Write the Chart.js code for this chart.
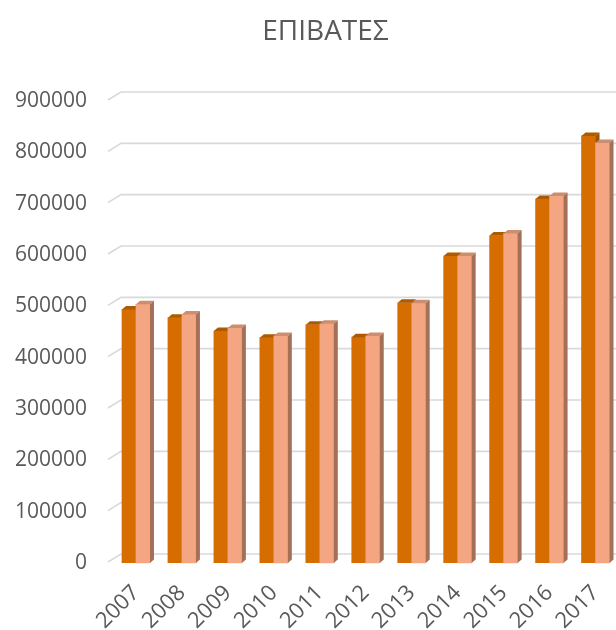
<!DOCTYPE html>
<html>
<head>
<meta charset="utf-8">
<script src="https://cdn.jsdelivr.net/npm/chart.js@4.4.1/dist/chart.umd.min.js"></script>
<style>
  html, body { margin: 0; padding: 0; overflow: hidden; background: #ffffff; }
  canvas { display: block; }
</style>
</head>
<body>
<canvas id="chart" width="651" height="630"></canvas>
<script>
// Passenger counts per year, two series
const years = ['2007', '2008', '2009', '2010', '2011', '2012', '2013', '2014', '2015', '2016', '2017'];
const seriesDark  = [494000, 478000, 452000, 439000, 464000, 440000, 507000, 598000, 638000, 709000, 832000];
const seriesLight = [504000, 484000, 458000, 442000, 466000, 442000, 506000, 598000, 642000, 715000, 818000];
const yTickValues = [0, 100000, 200000, 300000, 400000, 500000, 600000, 700000, 800000, 900000];

const TEXT = '#595959';
const DEPTH_X = 4;
const DEPTH_Y = 3.5;

const faceColors = [
  { top: '#AD5A00', side: '#9C5200' },
  { top: '#CC8E70', side: '#A57058' }
];

// Back-wall gridlines with a short slanted segment on the left wall
const wallGrid = {
  id: 'wallGrid',
  beforeDatasetsDraw(chart) {
    const { ctx, chartArea } = chart;
    const y = chart.scales.y;
    ctx.save();
    ctx.strokeStyle = '#D9D9D9';
    ctx.lineWidth = 1.6;
    yTickValues.forEach(v => {
      const py = y.getPixelForValue(v);
      ctx.beginPath();
      ctx.moveTo(chartArea.left - 5, py - 1);
      ctx.lineTo(chartArea.left + 8, py - 9);
      ctx.lineTo(chart.width, py - 9);
      ctx.stroke();
    });
    ctx.restore();
  }
};

function drawTopSide(ctx, el, colors) {
  const left = el.x - el.width / 2;
  const right = el.x + el.width / 2;
  const top = el.y;
  const base = el.base;
  // top face
  ctx.fillStyle = colors.top;
  ctx.beginPath();
  ctx.moveTo(left, top);
  ctx.lineTo(right, top);
  ctx.lineTo(right + DEPTH_X, top - DEPTH_Y);
  ctx.lineTo(left + DEPTH_X, top - DEPTH_Y);
  ctx.closePath();
  ctx.fill();
  // right side face
  ctx.fillStyle = colors.side;
  ctx.beginPath();
  ctx.moveTo(right, top);
  ctx.lineTo(right + DEPTH_X, top - DEPTH_Y);
  ctx.lineTo(right + DEPTH_X, base - DEPTH_Y);
  ctx.lineTo(right, base);
  ctx.closePath();
  ctx.fill();
}

// Adds depth faces to each bar, left to right so nearer faces cover farther ones
const bars3d = {
  id: 'bars3d',
  afterDatasetsDraw(chart) {
    const { ctx } = chart;
    const metaDark = chart.getDatasetMeta(0);
    const metaLight = chart.getDatasetMeta(1);
    ctx.save();
    for (let i = 0; i < years.length; i++) {
      const d = metaDark.data[i];
      const l = metaLight.data[i];
      drawTopSide(ctx, d, faceColors[0]);
      l.draw(ctx);
      drawTopSide(ctx, l, faceColors[1]);
    }
    ctx.restore();
  }
};

new Chart(document.getElementById('chart'), {
  type: 'bar',
  data: {
    labels: years,
    datasets: [
      { label: 'Σειρά1', data: seriesDark, backgroundColor: '#D66D00', borderWidth: 0, barThickness: 14, yAxisID: 'y' },
      { label: 'Σειρά2', data: seriesLight, backgroundColor: '#F4A682', borderWidth: 0, barThickness: 14, yAxisID: 'y' }
    ]
  },
  options: {
    responsive: false,
    animation: false,
    devicePixelRatio: 1,
    layout: { padding: 0 },
    plugins: {
      legend: { display: false },
      tooltip: { enabled: false },
      title: {
        display: true,
        text: 'ΕΠΙΒΑΤΕΣ',
        color: TEXT,
        font: { family: 'Open Sans', size: 28, weight: 'normal', lineHeight: 1.2 },
        padding: { top: 15, bottom: 52.4 }
      }
    },
    scales: {
      x: {
        grid: { display: false, drawTicks: false },
        border: { display: false },
        ticks: {
          autoSkip: false,
          minRotation: 45,
          maxRotation: 45,
          padding: 17,
          color: TEXT,
          font: { family: 'Open Sans', size: 22 }
        },
        afterFit(scale) { scale.height = 67; }
      },
      y: {
        min: 0,
        max: 900000,
        grid: { display: false, drawTicks: false },
        border: { display: false },
        ticks: {
          stepSize: 100000,
          padding: 26,
          color: TEXT,
          font: { family: 'Open Sans', size: 21 },
          callback: v => String(v)
        },
        afterFit(scale) { scale.width = 113; }
      },
      // empty right-hand strip that keeps the plot narrower than the title band
      yRight: {
        type: 'linear',
        position: 'right',
        min: 0,
        max: 1,
        grid: { display: false, drawTicks: false },
        border: { display: false },
        ticks: { display: false },
        afterFit(scale) { scale.width = 32.5; }
      }
    }
  },
  plugins: [wallGrid, bars3d]
});
</script>
</body>
</html>
